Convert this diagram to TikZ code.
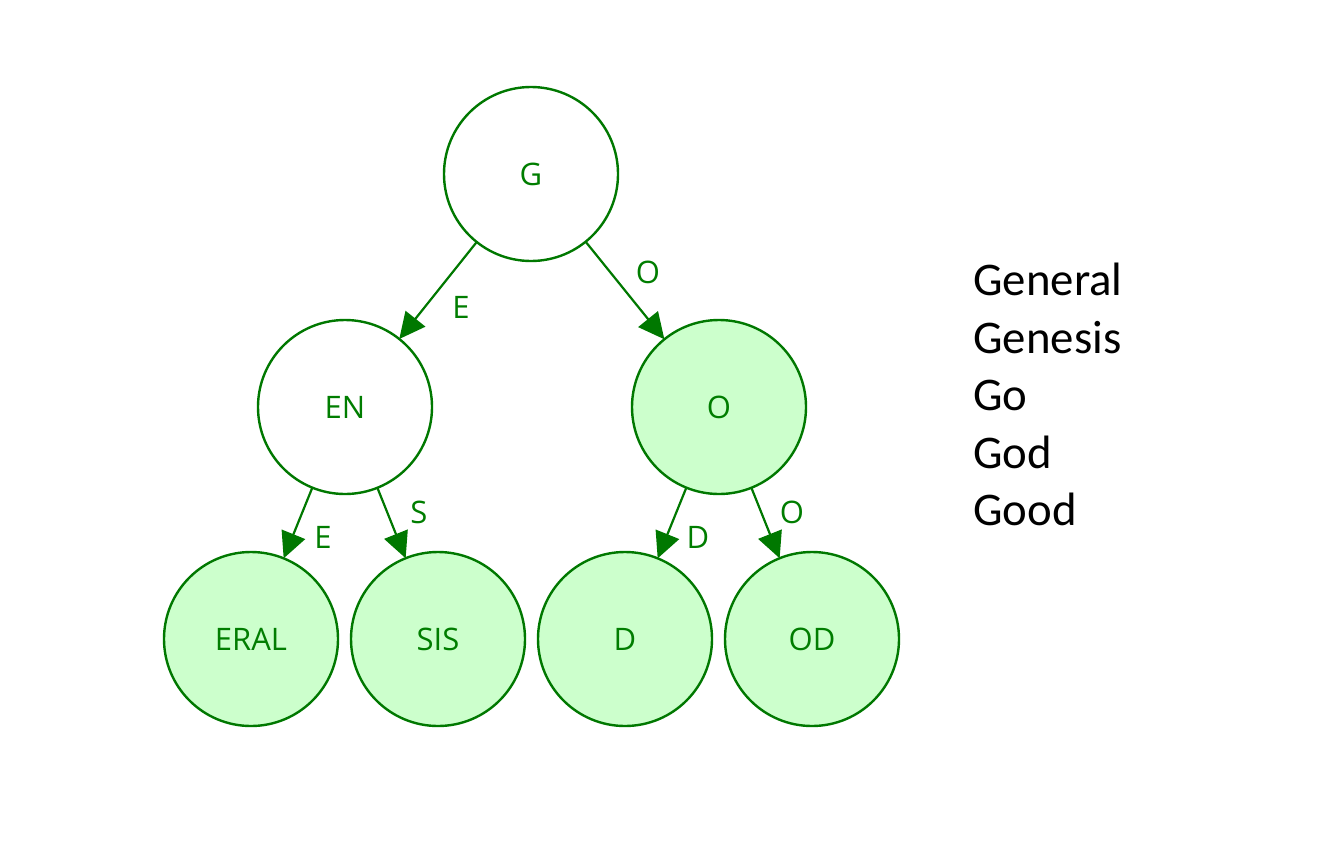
\documentclass[tikz,border=0pt]{standalone}
\usepackage{fontspec}
\setmainfont{Open Sans}
\newfontfamily\listfont{Carlito}
\usetikzlibrary{arrows.meta}
\definecolor{trieline}{RGB}{0,120,0}
\definecolor{triefill}{RGB}{204,255,204}
\definecolor{trietext}{RGB}{0,125,0}
\tikzset{
  tnode/.style={circle,draw=trieline,line width=1.2pt,minimum size=87pt,inner sep=0pt,outer sep=0pt,text=trietext,font=\fontsize{15.5}{18}\selectfont},
  leafnode/.style={tnode,fill=triefill},
  tedge/.style={draw=trieline,line width=1.1pt,-{Triangle[length=13pt,width=12.5pt]}},
  elabel/.style={text=trietext,font=\fontsize{15.5}{18}\selectfont,inner sep=0pt},
  word/.style={anchor=base west,inner sep=0pt,font=\listfont\fontsize{23.4}{28}\selectfont}
}
\begin{document}
\begin{tikzpicture}[x=0.5pt,y=-0.5pt]
\useasboundingbox (0,0) rectangle (1326,862);
\node[tnode] (g) at (531,174) {G};
\node[tnode] (en) at (345,407) {EN};
\node[leafnode] (o) at (719,407) {O};
\node[leafnode] (eral) at (251,639) {ERAL};
\node[leafnode] (sis) at (438,639) {SIS};
\node[leafnode] (d) at (625,639) {D};
\node[leafnode] (od) at (812,639) {OD};
\draw[tedge] (g) -- (en);
\draw[tedge] (g) -- (o);
\draw[tedge] (en) -- (eral);
\draw[tedge] (en) -- (sis);
\draw[tedge] (o) -- (d);
\draw[tedge] (o) -- (od);
\node[elabel] (l1) at (461,307) {E};
\node[elabel] (l2) at (648,272) {O};
\node[elabel] (l3) at (323,537) {E};
\node[elabel] (l4) at (419,512) {S};
\node[elabel] (l5) at (698,537) {D};
\node[elabel] (l6) at (792,512) {O};
\node[word] (w1) at (973,295) {General};
\node[word] (w2) at (973,353) {Genesis};
\node[word] (w3) at (973,410) {Go};
\node[word] (w4) at (973,468) {God};
\node[word] (w5) at (973,525) {Good};
\end{tikzpicture}
\end{document}
